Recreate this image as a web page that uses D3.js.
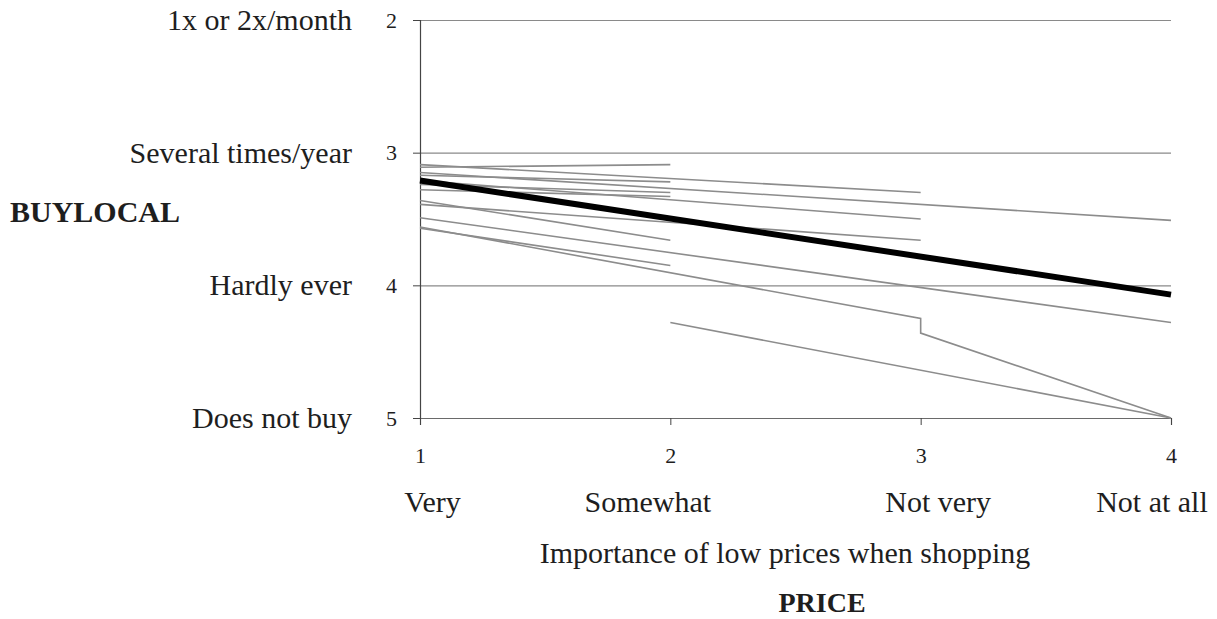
<!DOCTYPE html>
<html>
<head>
<meta charset="utf-8">
<script src="https://cdn.jsdelivr.net/npm/d3@7"></script>
<style>
  html, body { margin: 0; padding: 0; background: #fff; }
  svg { display: block; }
  text { font-family: "Liberation Serif", "Times New Roman", serif; fill: #1e1e1e; }
</style>
</head>
<body>
<svg id="chart" width="1217" height="619"></svg>
<script>
// ---- data ----
const priceTicks = [1, 2, 3, 4];
const priceLabels = ["Very", "Somewhat", "Not very", "Not at all"];
const buyTicks = [2, 3, 4, 5];
const buyLabels = ["1x or 2x/month", "Several times/year", "Hardly ever", "Does not buy"];

// group-level fitted lines: [price, buylocal] vertices
const groupLines = [
  [[1, 3.11], [2, 3.09]],
  [[1, 3.17], [2, 3.22]],
  [[1, 3.24], [2, 3.30]],
  [[1, 3.28], [2, 3.33]],
  [[1, 3.36], [2, 3.66]],
  [[1, 3.57], [2, 3.85]],
  [[1, 3.09], [3, 3.30]],
  [[1, 3.21], [3, 3.50]],
  [[1, 3.39], [3, 3.66]],
  [[1, 3.56], [3, 4.25], [3, 4.36], [4, 5.00]],
  [[1, 3.15], [4, 3.51]],
  [[1, 3.49], [4, 4.28]],
  [[2, 4.28], [4, 5.00]]
];
// overall fixed-effect line
const overallLine = [[1, 3.21], [4, 4.07]];

// ---- layout ----
const svg = d3.select("#chart");
const plot = { left: 420, right: 1171, top: 20, bottom: 418 };
const labelFont = "30px";
const tickFont = "22px";

const x = d3.scaleLinear().domain([1, 4]).range([plot.left, plot.right]);
const y = d3.scaleLinear().domain([2, 5]).range([plot.top, plot.bottom]);

// horizontal gridlines
svg.append("g")
  .attr("transform", `translate(${plot.left},0)`)
  .call(d3.axisLeft(y).tickValues([2, 3, 4]).tickSize(-(plot.right - plot.left)).tickFormat(""))
  .call(g => g.select(".domain").remove())
  .call(g => g.selectAll("line").attr("stroke", "#8a8a8a").attr("stroke-width", 1.2));

// y axis
svg.append("g")
  .attr("transform", `translate(${plot.left},0)`)
  .call(d3.axisLeft(y).tickValues(buyTicks).tickSize(7).tickPadding(16).tickFormat(d3.format("d")))
  .call(g => g.select(".domain").attr("stroke", "#444").attr("stroke-width", 1.2))
  .call(g => g.selectAll("line").attr("stroke", "#444"))
  .call(g => g.selectAll("text").style("font-size", tickFont).attr("fill", "#1e1e1e")
      .style("font-family", "'Liberation Serif', serif"));

// x axis
svg.append("g")
  .attr("transform", `translate(0,${plot.bottom})`)
  .call(d3.axisBottom(x).tickValues(priceTicks).tickSize(7).tickPadding(22).tickFormat(d3.format("d")))
  .call(g => g.select(".domain").attr("stroke", "#6a6a6a").attr("stroke-width", 1.2))
  .call(g => g.selectAll("line").attr("stroke", "#444"))
  .call(g => g.selectAll("text").style("font-size", tickFont).attr("fill", "#1e1e1e")
      .style("font-family", "'Liberation Serif', serif"));

// y category labels
svg.append("g").selectAll("text")
  .data(buyTicks)
  .join("text")
  .attr("x", 352)
  .attr("y", d => y(d))
  .attr("dy", "0.33em")
  .attr("text-anchor", "end")
  .style("font-size", labelFont)
  .text((d, i) => buyLabels[i]);

svg.append("text")
  .attr("x", 10).attr("y", 212).attr("dy", "0.33em")
  .style("font-size", labelFont).style("font-weight", "bold")
  .text("BUYLOCAL");

// x category labels (set slightly off the ticks)
const priceLabelShift = [0.05, -0.09, 0.07, -0.076];
svg.append("g").selectAll("text")
  .data(priceTicks)
  .join("text")
  .attr("x", (d, i) => x(d + priceLabelShift[i]))
  .attr("y", 502)
  .attr("dy", "0.33em")
  .attr("text-anchor", "middle")
  .style("font-size", labelFont)
  .text((d, i) => priceLabels[i]);

svg.append("text")
  .attr("x", 785).attr("y", 553).attr("dy", "0.33em")
  .attr("text-anchor", "middle")
  .style("font-size", labelFont)
  .text("Importance of low prices when shopping");

svg.append("text")
  .attr("x", 822).attr("y", 603).attr("dy", "0.33em")
  .attr("text-anchor", "middle")
  .style("font-size", "28px").style("font-weight", "bold")
  .text("PRICE");

// lines
const line = d3.line().x(d => x(d[0])).y(d => y(d[1]));

svg.append("g").selectAll("path")
  .data(groupLines)
  .join("path")
  .attr("d", line)
  .attr("fill", "none")
  .attr("stroke", "#8c8c8c")
  .attr("stroke-width", 1.6);

svg.append("path")
  .datum(overallLine)
  .attr("d", line)
  .attr("fill", "none")
  .attr("stroke", "#000")
  .attr("stroke-width", 6);
</script>
</body>
</html>
